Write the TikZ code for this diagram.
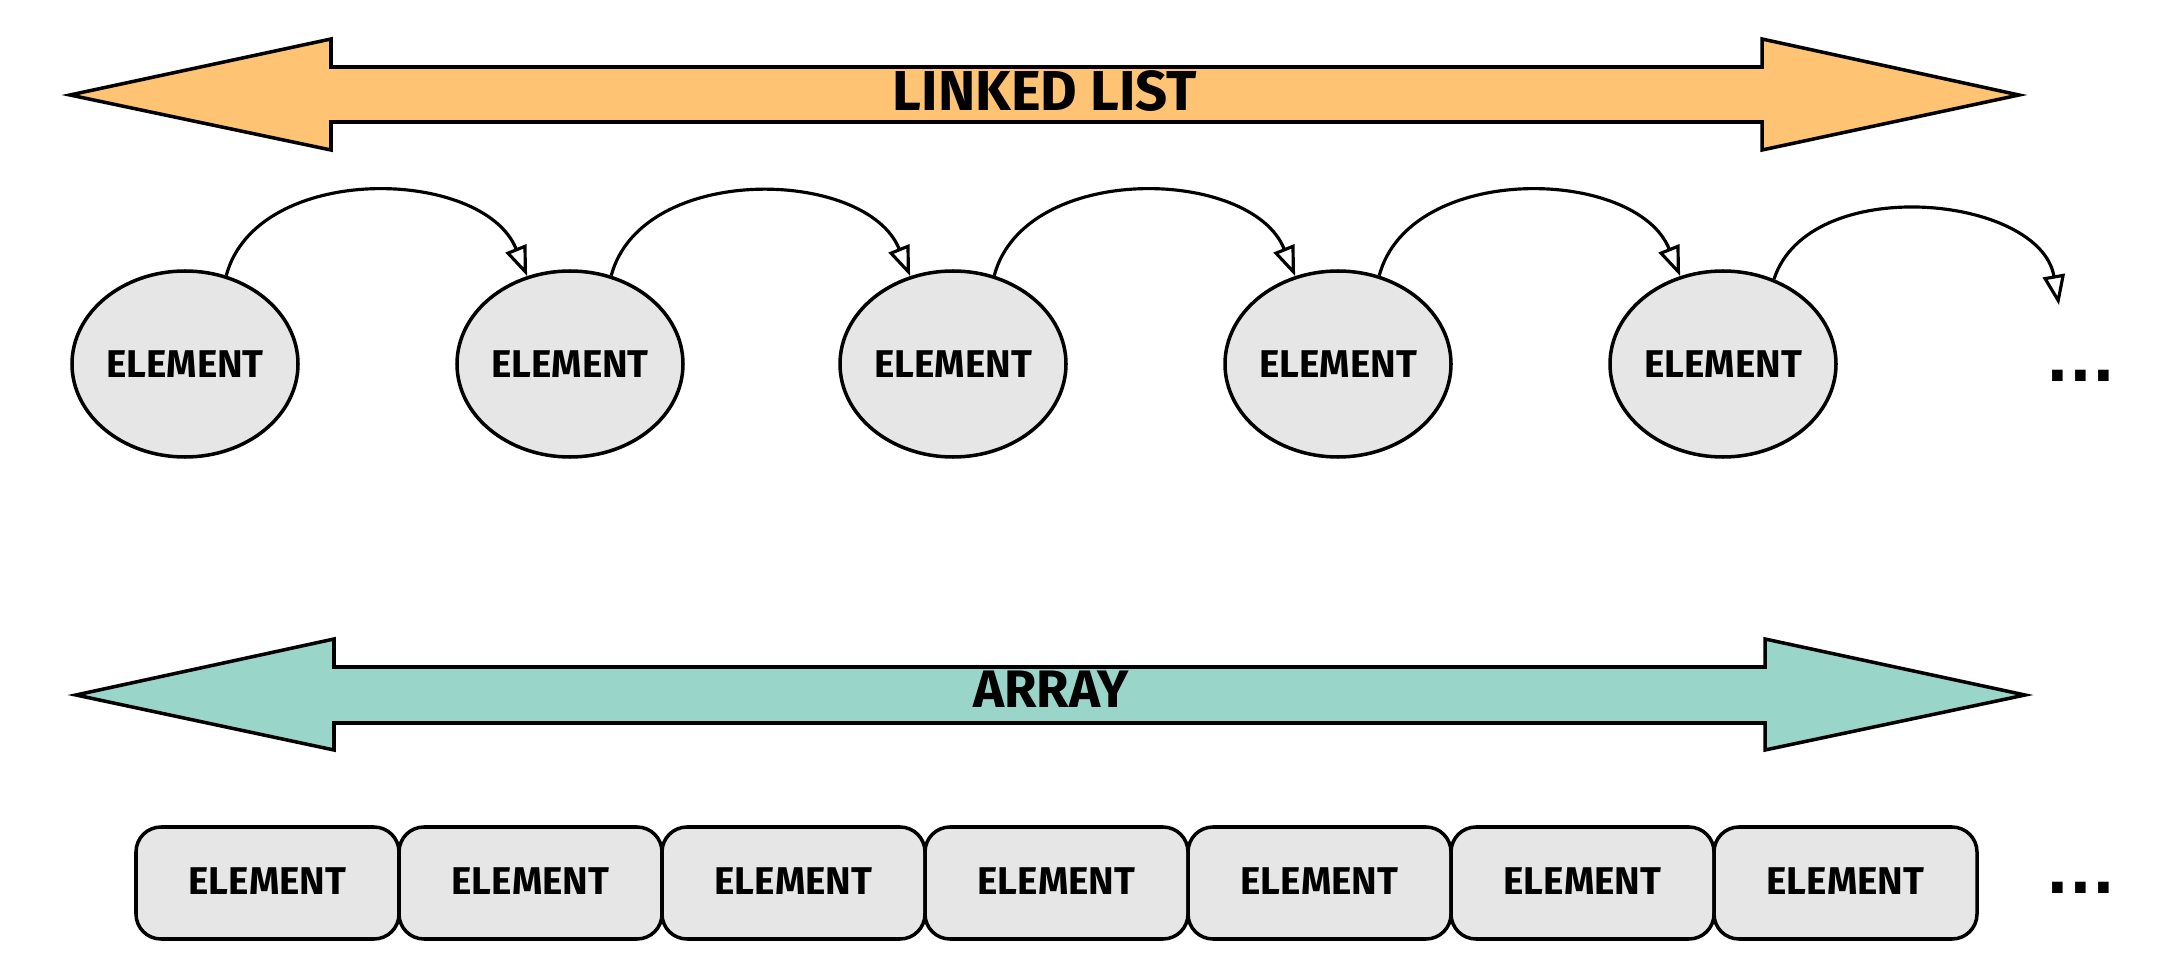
\documentclass[tikz,border=0pt]{standalone}
\usepackage{fontspec}
\setmainfont{Fira Sans}
\newfontfamily\dotfont{DejaVu Sans}
\usetikzlibrary{calc,shapes,positioning}
\usetikzlibrary{arrows.meta}
\definecolor{listorange}{HTML}{FFC473}
\definecolor{arrayteal}{HTML}{9AD5CA}
\definecolor{elemgray}{HTML}{E6E6E6}

\begin{document}
\begin{tikzpicture}
    \useasboundingbox (0,0) rectangle (21.79,9.75);
    \tikzstyle{banner} = [line width=1pt, draw=black, line join=miter]
    \tikzstyle{btext} = [font=\bfseries\fontsize{15}{18}\selectfont, inner sep=0pt]
    \tikzstyle{dots} = [font=\dotfont\bfseries\fontsize{17}{20}\selectfont, inner sep=0pt]

    \begin{scope}
      \tikzstyle{enode} = [line width=1pt, draw=black, fill=elemgray, ellipse,
      minimum width=2.26cm, minimum height=1.86cm, inner sep=0pt,
      font=\bfseries\fontsize{11}{13}\selectfont]
      \tikzstyle{link} = [line width=0.9pt, -{Triangle[length=3mm, width=2.2mm, fill=white]}]

      \draw[banner, fill=listorange] (0.70,8.80) -- (3.31,9.36) -- (3.31,9.08)
        -- (17.62,9.08) -- (17.62,9.36) -- (20.19,8.80) -- (17.62,8.25)
        -- (17.62,8.53) -- (3.31,8.53) -- (3.31,8.25) -- cycle;
      \node[btext, font=\bfseries\fontsize{16}{19}\selectfont] (ltitle) at (10.45,8.84) {LINKED LIST};

      \node[enode] (e1) at (1.85,6.11) {ELEMENT};
      \node[enode] (e2) at (5.70,6.11) {ELEMENT};
      \node[enode] (e3) at (9.53,6.11) {ELEMENT};
      \node[enode] (e4) at (13.38,6.11) {ELEMENT};
      \node[enode] (e5) at (17.23,6.11) {ELEMENT};
      \coordinate (enext) at (20.59,6.70);
      \node[dots] (ldots) at (20.81,5.99) {...};
      % connections

      \draw[link] (e1.65) to[out=75, in=112] (e2.116);
      \draw[link] (e2.65) to[out=75, in=112] (e3.116);
      \draw[link] (e3.65) to[out=75, in=112] (e4.116);
      \draw[link] (e4.65) to[out=75, in=112] (e5.116);
      \draw[link] (e5.59) to[out=72, in=100] (enext);
    \end{scope}


    \begin{scope}
      \tikzstyle{anode} = [line width=1pt, draw=black, fill=elemgray, rectangle,
      rounded corners=0.25cm, minimum width=2.63cm, minimum height=1.12cm,
      inner sep=0pt, font=\bfseries\fontsize{11}{13}\selectfont]

      \draw[banner, fill=arrayteal] (0.76,2.80) -- (3.34,3.36) -- (3.34,3.08)
        -- (17.65,3.08) -- (17.65,3.36) -- (20.25,2.80) -- (17.65,2.25)
        -- (17.65,2.52) -- (3.34,2.52) -- (3.34,2.25) -- cycle;
      \node[btext] (atitle) at (10.51,2.86) {ARRAY};

      \node[anode] (a1) at (2.675,0.92) {\raisebox{1pt}{ELEMENT}};
      \node[anode] (a2) at (5.305,0.92) {\raisebox{1pt}{ELEMENT}};
      \node[anode] (a3) at (7.935,0.92) {\raisebox{1pt}{ELEMENT}};
      \node[anode] (a4) at (10.565,0.92) {\raisebox{1pt}{ELEMENT}};
      \node[anode] (a5) at (13.195,0.92) {\raisebox{1pt}{ELEMENT}};
      \node[anode] (a6) at (15.825,0.92) {\raisebox{1pt}{ELEMENT}};
      \node[anode] (a7) at (18.455,0.92) {\raisebox{1pt}{ELEMENT}};
      \node[dots] (adots) at (20.81,0.87) {...};
    \end{scope}

  \end{tikzpicture}
\end{document}
